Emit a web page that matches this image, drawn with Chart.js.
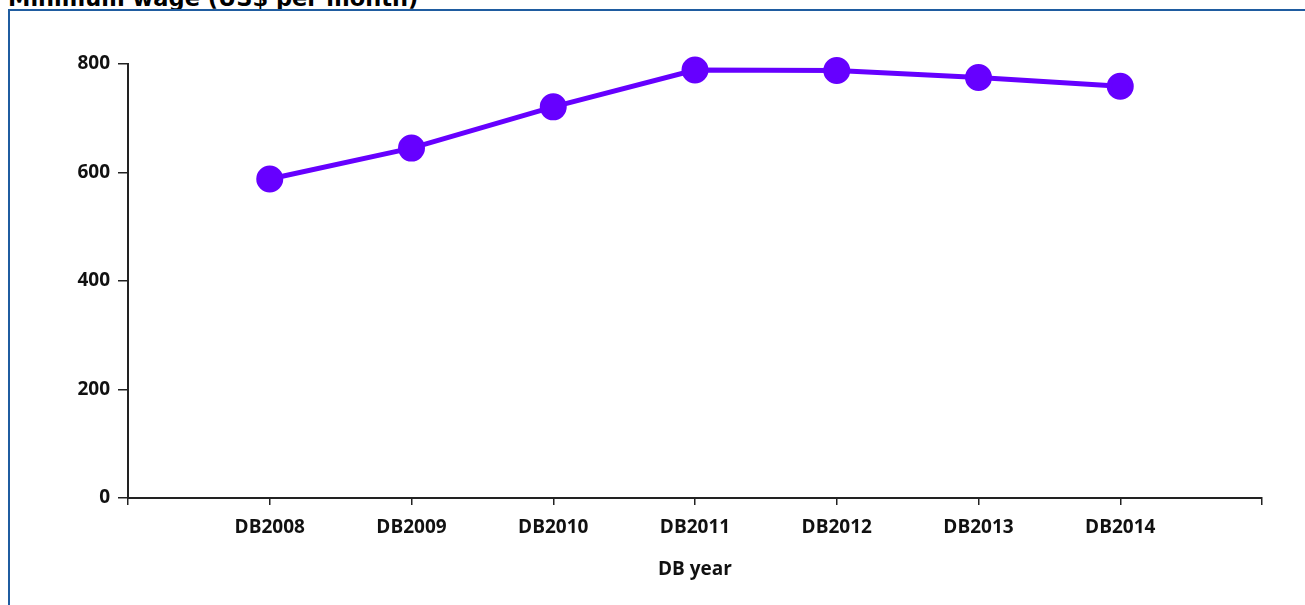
<!DOCTYPE html>
<html>
<head>
<meta charset="utf-8">
<script src="https://cdn.jsdelivr.net/npm/chart.js@4"></script>
<style>
html, body { margin: 0; padding: 0; background: #fff; overflow: hidden; }
#title {
  position: absolute; left: 8px; top: -15px;
  font-family: "DejaVu Sans", sans-serif; font-weight: bold; font-size: 22.5px;
  color: #000; white-space: nowrap;
}
#frame {
  position: absolute; left: 8px; top: 9px; width: 1320px; height: 620px;
  border: 2px solid #1f5ca0; box-sizing: border-box;
}
#wrap { position: absolute; left: 0; top: 0; width: 1305px; height: 605px; }
</style>
</head>
<body>
<div id="title">Minimum wage (US$ per month)</div>
<div id="frame"></div>
<div id="wrap"><canvas id="chart"></canvas></div>
<script>

// DB years and minimum wage (US$ per month)
const years = ["DB2008", "DB2009", "DB2010", "DB2011", "DB2012", "DB2013", "DB2014"];
const wage = [588, 645, 721, 789, 788, 775, 759];
const yTicks = [0, 200, 400, 600, 800];

const points = years.map((y, i) => ({ x: i + 1, y: wage[i] }));

const tickFont = { family: "'Open Sans', sans-serif", size: 19, weight: "bold" };

new Chart(document.getElementById("chart"), {
  type: "line",
  data: {
    datasets: [{
      label: "Minimum wage",
      data: points,
      borderColor: "#6600ff",
      backgroundColor: "#6600ff",
      borderWidth: 5,
      pointRadius: 11,
      pointHoverRadius: 11,
      clip: false,
      tension: 0
    }]
  },
  options: {
    responsive: true,
    maintainAspectRatio: false,
    animation: false,
    layout: { padding: { left: 0, right: 43, top: 64, bottom: 0 } },
    plugins: { legend: { display: false }, tooltip: { enabled: false } },
    scales: {
      x: {
        type: "linear",
        min: 0,
        max: years.length + 1,
        afterBuildTicks: s => { s.ticks = []; for (let i = 0; i <= years.length + 1; i++) s.ticks.push({ value: i }); },
        afterFit: s => { s.height = 107; },
        ticks: {
          color: "#111",
          font: tickFont,
          padding: 11,
          maxRotation: 0,
          autoSkip: false,
          callback: v => years[v - 1] || ""
        },
        grid: { drawOnChartArea: false, drawTicks: true, tickLength: 7, color: "#222", lineWidth: 1.5 },
        border: { display: true, color: "#222", width: 2 },
        title: { display: true, text: "DB year", color: "#111", font: tickFont, padding: { top: 10, bottom: 24 } }
      },
      y: {
        min: 0,
        max: 800,
        afterBuildTicks: s => { s.ticks = yTicks.map(v => ({ value: v })); },
        afterFit: s => { s.width = 128; },
        ticks: { color: "#111", font: tickFont, padding: 8 },
        grid: { drawOnChartArea: false, drawTicks: true, tickLength: 10, color: "#222", lineWidth: 1.5 },
        border: { display: true, color: "#222", width: 2 }
      }
    }
  }
});
</script>
</body>
</html>
